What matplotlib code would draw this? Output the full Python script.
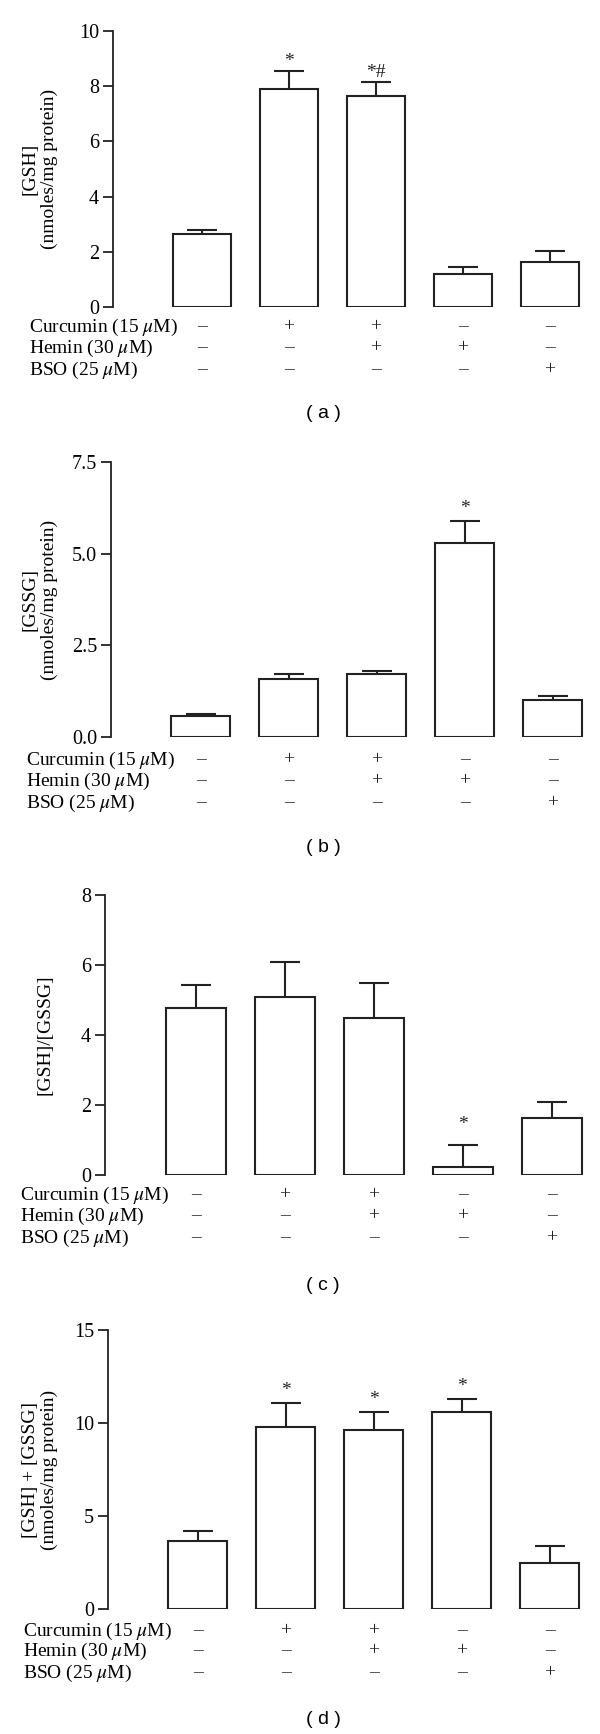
import matplotlib
matplotlib.use("Agg")
import matplotlib.pyplot as plt
import matplotlib.transforms as mtransforms

plt.rcParams['font.family'] = ['Liberation Serif', 'DejaVu Serif']
plt.rcParams['mathtext.fontset'] = 'stix'

# ---------------- data ----------------
treatment_rows = ["Curcumin (15 $\\mu$M)", "Hemin (30 $\\mu$M)", "BSO (25 $\\mu$M)"]
curcumin = ["\u2013", "+", "+", "\u2013", "\u2013"]
hemin = ["\u2013", "\u2013", "+", "+", "\u2013"]
bso = ["\u2013", "\u2013", "\u2013", "\u2013", "+"]

gsh_mean = [2.66, 7.90, 7.64, 1.21, 1.64]
gsh_sem = [0.12, 0.64, 0.51, 0.23, 0.40]
gsh_marks = ["", "*", "*#", "", ""]

gssg_mean = [0.56, 1.57, 1.71, 5.29, 1.02]
gssg_sem = [0.08, 0.16, 0.08, 0.61, 0.10]
gssg_marks = ["", "", "", "*", ""]

ratio_mean = [4.78, 5.08, 4.50, 0.22, 1.63]
ratio_sem = [0.64, 1.00, 0.99, 0.64, 0.47]
ratio_marks = ["", "", "", "*", ""]

total_mean = [3.65, 9.79, 9.61, 10.58, 2.49]
total_sem = [0.52, 1.29, 1.00, 0.73, 0.89]
total_marks = ["", "*", "*", "*", ""]

ylabels = ["[GSH]\n(nmoles/mg protein)",
           "[GSSG]\n(nmoles/mg protein)",
           "[GSH]/[GSSG]",
           "[GSH] + [GSSG]\n(nmoles/mg protein)"]
yticks = [[0, 2, 4, 6, 8, 10], [0.0, 2.5, 5.0, 7.5], [0, 2, 4, 6, 8], [0, 5, 10, 15]]
ytick_labels = [["0", "2", "4", "6", "8", "10"], ["0.0", "2.5", "5.0", "7.5"],
                ["0", "2", "4", "6", "8"], ["0", "5", "10", "15"]]
captions = ["( a )", "( b )", "( c )", "( d )"]

means = [gsh_mean, gssg_mean, ratio_mean, total_mean]
sems = [gsh_sem, gssg_sem, ratio_sem, total_sem]
marks = [gsh_marks, gssg_marks, ratio_marks, total_marks]

# ---------------- layout (pixels) ----------------
W, H = 600, 1734
left_px = [113, 111, 105, 108]
top_px = [31, 462, 895, 1330]
bottom_px = [307, 737, 1175, 1609]
spacing_px = [87, 88, 89, 88]
row_y_px = [[327, 348, 370], [760, 781, 803], [1195, 1216, 1238], [1631, 1651, 1673]]
row_label_x_px = [29, 26, 20, 23]
caption_y_px = [413, 848, 1285, 1719]
ylabel_x_px = [40, 40, 45, 40]
star_gap_px = [10, 12, 20, 12]

XMIN, XMAX = -1.02, 4.40
BAR_W = 0.67
CAP_HALF = 0.17
LINE_C = "#222222"

fig = plt.figure(figsize=(W / 100, H / 100), dpi=100)

for i in range(4):
    width_px = spacing_px[i] * (XMAX - XMIN)
    ax = fig.add_axes([left_px[i] / W, 1 - bottom_px[i] / H,
                       width_px / W, (bottom_px[i] - top_px[i]) / H])
    x = list(range(5))
    m = means[i]
    s = sems[i]
    ax.bar(x, m, width=BAR_W, color="white", edgecolor=LINE_C, linewidth=1.5, zorder=2)
    tops = [a + b for a, b in zip(m, s)]
    ax.vlines(x, m, tops, color=LINE_C, linewidth=1.5, zorder=1)
    ax.hlines(tops, [v - CAP_HALF for v in x], [v + CAP_HALF for v in x],
              color=LINE_C, linewidth=1.5, zorder=1)
    for xi, t, mk in zip(x, tops, marks[i]):
        if mk:
            ax.annotate(mk, (xi, t), xytext=(0, star_gap_px[i] * 0.72),
                        textcoords="offset points", ha="center", va="center",
                        fontsize=14, color=LINE_C)
    ax.set_xlim(XMIN, XMAX)
    ax.set_ylim(0, yticks[i][-1])
    ax.set_yticks(yticks[i])
    ax.set_yticklabels(ytick_labels[i])
    ax.set_xticks([])
    for sp in ["top", "right", "bottom"]:
        ax.spines[sp].set_visible(False)
    ax.spines["left"].set_linewidth(1.3)
    ax.spines["left"].set_color(LINE_C)
    ax.tick_params(axis="y", direction="out", length=7, width=1.3, color=LINE_C,
                   labelsize=14.5, pad=3)
    ax.patch.set_alpha(0)

    # y label
    fig.text(ylabel_x_px[i] / W, 1 - (top_px[i] + bottom_px[i]) / 2 / H, ylabels[i],
             rotation=90, ha="center", va="center", fontsize=14,
             linespacing=1.2, multialignment="center")

    # treatment table
    blend = mtransforms.blended_transform_factory(ax.transData, fig.transFigure)
    for r, (lab, signs) in enumerate(zip(treatment_rows, [curcumin, hemin, bso])):
        yf = 1 - row_y_px[i][r] / H
        fig.text(row_label_x_px[i] / W, yf, lab, ha="left", va="center", fontsize=14)
        for xi, sg in zip(x, signs):
            ax.text(xi, yf, sg, transform=blend, ha="center", va="center",
                    fontsize=14, color=LINE_C, clip_on=False)

    fig.text(323 / W, 1 - caption_y_px[i] / H, captions[i], ha="center", va="center",
             fontsize=14, family=["Liberation Sans", "DejaVu Sans"])

fig.savefig("out.png", dpi=100, facecolor="white")
